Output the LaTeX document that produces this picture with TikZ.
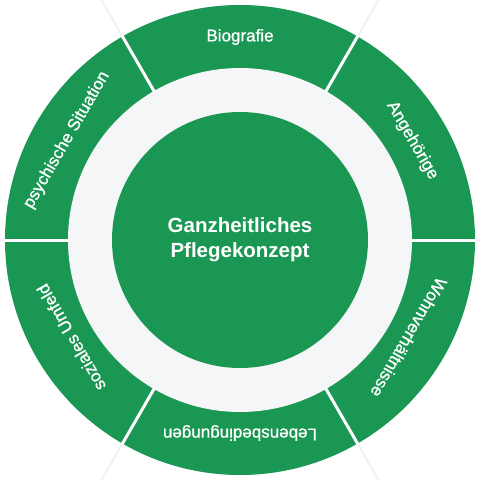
\documentclass[tikz,border=0pt]{standalone}
\usepackage{fontspec}
\setmainfont{Liberation Sans}
\newfontfamily\segfont[FakeBold=0.9]{Liberation Sans}
\definecolor{ringgreen}{HTML}{1B9754}
\definecolor{ringgray}{HTML}{F5F6F8}
\definecolor{spokegray}{HTML}{F0F2F5}
\tikzset{
  seglabel/.style={text=white,font=\segfont\fontsize{17}{20}\selectfont,inner sep=0pt},
  centerlabel/.style={text=white,font=\fontsize{20.5}{25}\selectfont\bfseries,align=center}
}

\begin{document}
\begin{tikzpicture}[x=1pt,y=1pt]
  \useasboundingbox (-240pt,-240pt) rectangle (240pt,240pt);
  \clip (-240pt,-240pt) rectangle (240pt,240pt);
  \fill[white] (-240pt,-240pt) rectangle (240pt,240pt);
  % faint spokes outside the ring
  \foreach \a in {0,60,...,300}
    \draw[spokegray,line width=2pt] (\a:235pt) -- (\a:330pt);
  \fill[ringgreen] (0,0) circle (235pt);
  \fill[ringgray] (0,0) circle (172pt);
  \node[circle,fill=ringgreen,minimum size=256pt,inner sep=0pt] (core) at (0,0) {};
  % gaps between segments
  \foreach \a in {0,60,...,300}
    \draw[white,line width=3pt] (\a:171pt) -- (\a:236pt);
  \node[seglabel,rotate=0] (bio) at (90:203pt) {Biografie};
  \node[seglabel,rotate=-60] (ang) at (30:199pt) {Angehörige};
  \node[seglabel,rotate=-120] (wohn) at (-30:195pt) {Wohnverhältnisse};
  \node[seglabel,rotate=180] (leb) at (-90:193pt) {Lebensbedingungen};
  \node[seglabel,rotate=120] (soz) at (-150:195pt) {soziales Umfeld};
  \node[seglabel,rotate=60] (psy) at (150:200pt) {psychische Situation};
  \node[centerlabel] (title) at (core) {Ganzheitliches\\Pflegekonzept};
\end{tikzpicture}
\end{document}
